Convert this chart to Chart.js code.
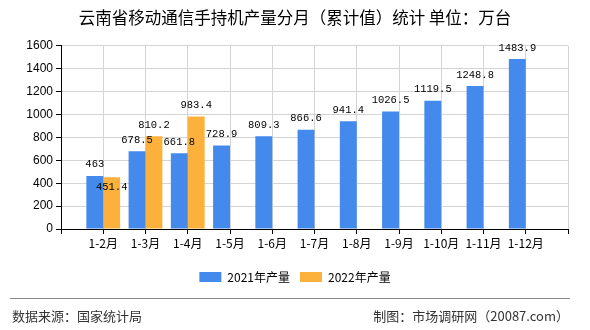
<!DOCTYPE html>
<html>
<head>
  <meta charset="utf-8" />
  <script src="https://cdn.jsdelivr.net/npm/chart.js@4.4.1/dist/chart.umd.min.js"></script>
  <style>
    body { margin: 0; background: #fff; }
    #wrap { width: 590px; height: 330px; position: relative; }
  </style>
</head>
<body>
<div id="wrap"><canvas id="prodChart"></canvas></div>

<script>
/* ---------- Data ---------- */
const months = ['1-2月', '1-3月', '1-4月', '1-5月', '1-6月', '1-7月', '1-8月', '1-9月', '1-10月', '1-11月', '1-12月'];
const output2021 = [463, 678.5, 661.8, 728.9, 809.3, 866.6, 941.4, 1026.5, 1119.5, 1248.8, 1483.9];
const output2022 = [451.4, 810.2, 983.4];
const yTicks = [0, 200, 400, 600, 800, 1000, 1200, 1400, 1600];

const TITLE = '云南省移动通信手持机产量分月（累计值）统计 单位：万台';
const SOURCE = '数据来源：国家统计局';
const MAKER = '制图：市场调研网（20087.com）';

const BLUE = '#4489EC', ORANGE = '#FBB13C';
const CJK = '"Noto Sans CJK SC", "Microsoft YaHei", sans-serif';

// blank slot at each end so the months sit on the grid lines
const xLabels = [''].concat(months, ['']);
const pad = arr => [null].concat(arr, new Array(xLabels.length - 1 - arr.length).fill(null));

/* ---------- Value labels with simple overlap push-down ---------- */
const valueLabels = {
  id: 'valueLabels',
  afterDatasetsDraw(chart) {
    const ctx = chart.ctx;
    ctx.save();
    ctx.font = '10.5px "Liberation Mono", monospace';
    ctx.fillStyle = '#000';
    ctx.textAlign = 'center';
    ctx.textBaseline = 'alphabetic';
    const placed = [];
    chart.data.datasets.forEach((ds, di) => {
      chart.getDatasetMeta(di).data.forEach((bar, i) => {
        const v = ds.data[i];
        if (v == null) return;
        const txt = String(v);
        const w = ctx.measureText(txt).width;
        let y = bar.y - 8.5;
        const box = () => ({ l: bar.x - w / 2, r: bar.x + w / 2, t: y - 9, b: y + 1 });
        placed.forEach(p => {
          const b = box();
          if (b.l < p.r && b.r > p.l && b.t < p.b && b.b > p.t) y = p.y + 23;
        });
        placed.push(Object.assign(box(), { y }));
        ctx.fillText(txt, bar.x, y);
      });
    });
    ctx.restore();
  }
};

/* ---------- Footer: rule + source / maker ---------- */
const footer = {
  id: 'footer',
  afterDraw(chart) {
    const ctx = chart.ctx;
    ctx.save();
    ctx.strokeStyle = '#888';
    ctx.lineWidth = 1;
    ctx.beginPath();
    ctx.moveTo(10, 298.5);
    ctx.lineTo(570, 298.5);
    ctx.stroke();
    ctx.font = '13px ' + CJK;
    ctx.fillStyle = '#333';
    ctx.textBaseline = 'middle';
    ctx.textAlign = 'left';
    ctx.fillText(SOURCE, 12, 316);
    ctx.textAlign = 'right';
    ctx.fillText(MAKER, 569, 316);
    ctx.restore();
  }
};

new Chart(document.getElementById('prodChart'), {
  type: 'bar',
  data: {
    labels: xLabels,
    datasets: [
      { label: '2021年产量', data: pad(output2021), backgroundColor: BLUE, borderWidth: 0 },
      { label: '2022年产量', data: pad(output2022), backgroundColor: ORANGE, borderWidth: 0 }
    ]
  },
  options: {
    responsive: true,
    maintainAspectRatio: false,
    animation: false,
    layout: { padding: { top: 0, left: 0, right: 0, bottom: 37 } },
    datasets: { bar: { barPercentage: 1, categoryPercentage: 0.8 } },
    plugins: {
      title: {
        display: true, text: TITLE, color: '#000',
        font: { family: CJK, size: 16.5, weight: 'normal' },
        padding: { top: 8, bottom: 18 }
      },
      legend: {
        position: 'bottom',
        labels: {
          color: '#000', boxWidth: 22, boxHeight: 10, padding: 10,
          font: { family: CJK, size: 12 }
        }
      },
      tooltip: { enabled: false }
    },
    scales: {
      x: {
        offset: false,
        grid: { offset: false, color: '#d4d4d4', tickColor: '#000', tickLength: 5 },
        border: { color: '#000' },
        ticks: { color: '#000', autoSkip: false, maxRotation: 0, padding: 2, font: { family: CJK, size: 12 } },
        afterFit: s => { s.height = 32; }
      },
      y: {
        min: 0, max: 1600,
        afterBuildTicks: s => { s.ticks = yTicks.map(v => ({ value: v })); },
        grid: { color: '#d4d4d4', tickColor: '#000', tickLength: 5 },
        border: { color: '#000' },
        ticks: {
          color: '#000', padding: 3,
          font: { family: '"Liberation Sans", Arial, sans-serif', size: 12 },
          callback: v => String(v)
        },
        afterFit: s => { s.width = 61; }
      },
      // empty right gutter so the title and legend stay centred on the page
      gutter: {
        type: 'linear', position: 'right',
        grid: { display: false }, border: { display: false },
        ticks: { display: false },
        afterFit: s => { s.width = 22; }
      }
    }
  },
  plugins: [valueLabels, footer]
});
</script>
</body>
</html>
